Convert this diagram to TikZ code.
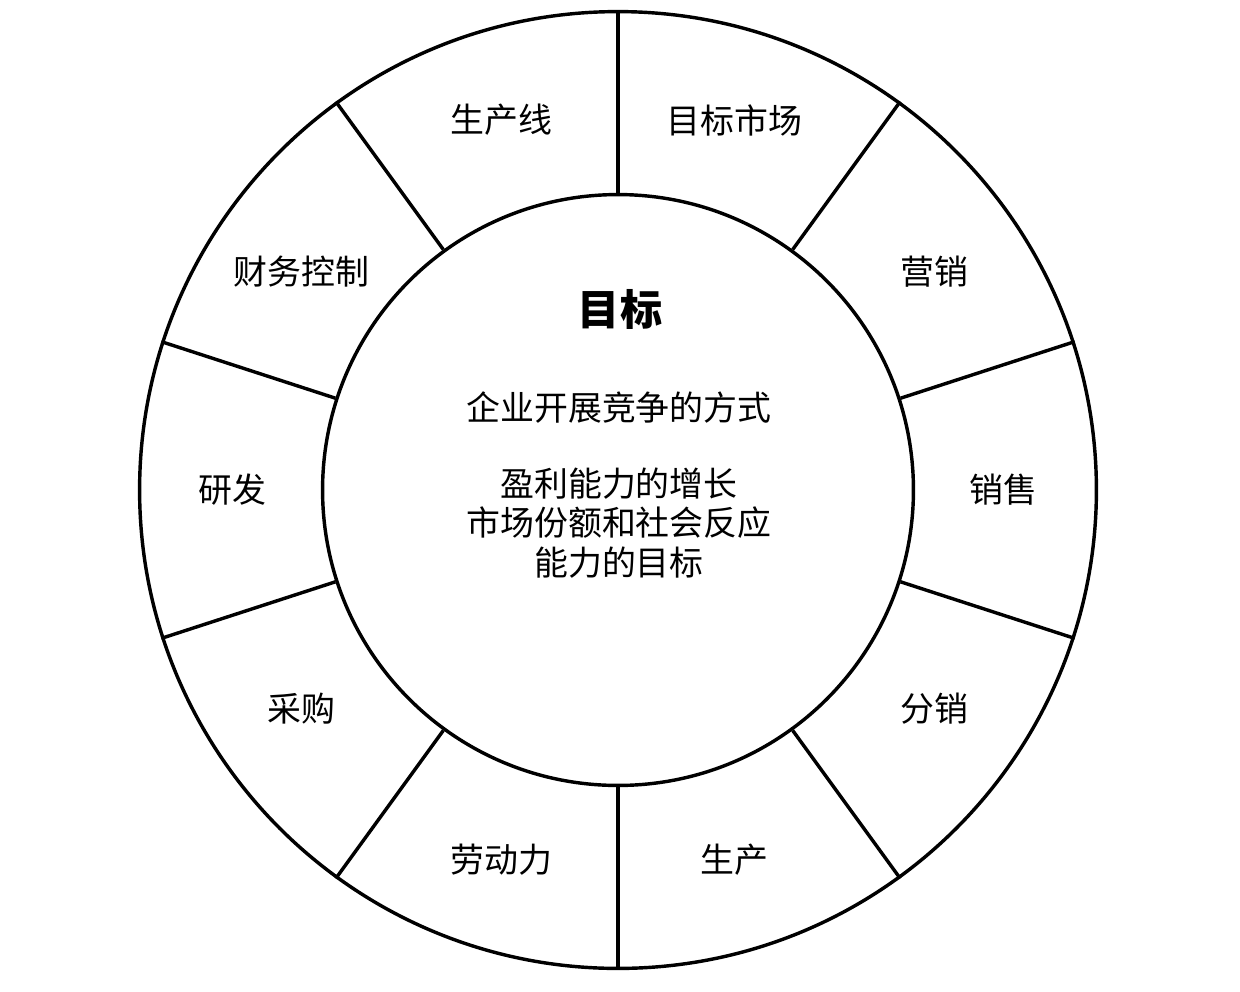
\documentclass[tikz,border=0pt]{standalone}
\usepackage{fontspec}
\usetikzlibrary{calc}
\setmainfont{Noto Sans CJK SC}
\begin{document}
\begin{tikzpicture}[x=0.02cm,y=0.02cm,
  ring/.style={draw=black,line width=1.95pt,circle,inner sep=0pt},
  divider/.style={draw=black,line width=1.95pt},
  seglabel/.style={font=\fontsize{19.3pt}{22pt}\selectfont,inner sep=0pt}]
\useasboundingbox (0,0) rectangle (1240,-991);
\coordinate (c) at (618,-490);
\node[ring,minimum size=19.14cm] (outer) at (c) {};
\node[ring,minimum size=11.82cm,fill=white] (inner) at (c) {};
\foreach \a in {90,54,18,-18,-54,-90,-126,-162,162,126}{
  \draw[divider] (inner.\a) -- (outer.\a);
}
\node[seglabel] (l1) at ($(c)+(72.5:388)$) {目标市场};
\node[seglabel] (l2) at ($(c)+(34.6:385)$) {营销};
\node[seglabel] (l3) at ($(c)+(0:385)$) {销售};
\node[seglabel] (l4) at ($(c)+(-34.6:385)$) {分销};
\node[seglabel] (l5) at ($(c)+(-72.5:388)$) {生产};
\node[seglabel] (l6) at ($(c)+(-107.5:388)$) {劳动力};
\node[seglabel] (l7) at ($(c)+(-145.4:385)$) {采购};
\node[seglabel] (l8) at ($(c)+(180:386)$) {研发};
\node[seglabel] (l9) at ($(c)+(145.4:385)$) {财务控制};
\node[seglabel] (l10) at ($(c)+(107.5:388)$) {生产线};
\node[font=\fontsize{24pt}{28pt}\selectfont\bfseries,inner sep=0pt] (title) at (620,-309) {目标};
\node[seglabel] (m1) at (619,-408) {企业开展竞争的方式};
\node[seglabel,align=center,font=\fontsize{19.3pt}{22.7pt}\selectfont] (m2) at (619,-523) {盈利能力的增长\\市场份额和社会反应\\能力的目标};
\end{tikzpicture}
\end{document}
